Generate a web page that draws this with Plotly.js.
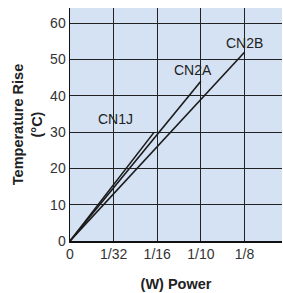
<!DOCTYPE html>
<html><head><meta charset="utf-8">
<script src="https://cdn.plot.ly/plotly-3.0.1.min.js"></script>
<style>html,body{margin:0;padding:0;background:#fff;}#c{width:283px;height:293px;}</style>
</head><body><div id="c"></div>
<script>
const tickPositions = [0, 1, 2, 3, 4];
const tickLabels = ["0", "1/32", "1/16", "1/10", "1/8"];
const seriesNames = ["CN1J", "CN2A", "CN2B"];
const cn1jX = [0, 1.93];
const cn1jY = [0, 30];
const cn2aX = [0, 3];
const cn2aY = [0, 44];
const cn2bX = [0, 4];
const cn2bY = [0, 52];
const labelX = [1.05, 2.81, 4.0];
const labelY = [33.6, 47.1, 54.5];

const mk = (x, y, n) => ({x: x, y: y, name: n, type: 'scatter', mode: 'lines',
  line: {color: '#1a1a1a', width: 1.6}, hoverinfo: 'skip'});
const data = [mk(cn1jX, cn1jY, seriesNames[0]), mk(cn2aX, cn2aY, seriesNames[1]), mk(cn2bX, cn2bY, seriesNames[2])];

const fam = 'Liberation Sans, Arial, sans-serif';
const font = {family: fam, size: 14, color: '#333'};
const layout = {
  width: 283, height: 293,
  margin: {l: 70, r: 1, t: 8, b: 52},
  paper_bgcolor: '#fff', plot_bgcolor: '#d5e2f3',
  showlegend: false,
  font: font,
  xaxis: {range: [0, 4.86], tickvals: tickPositions, ticktext: tickLabels,
    showgrid: true, gridcolor: '#222', gridwidth: 1, zeroline: false,
    showline: true, linecolor: '#111', linewidth: 1.5, mirror: false,
    ticks: '', ticklen: 0, tickfont: font,
    title: {text: '<b>(W) Power</b>', font: {family: fam, size: 14.5, color: '#222'}, standoff: 17}},
  yaxis: {range: [0, 64.2], tickvals: [0, 10, 20, 30, 40, 50, 60],
    showgrid: true, gridcolor: '#222', gridwidth: 1, zeroline: false,
    showline: true, linecolor: '#111', linewidth: 1.5,
    ticks: '', tickfont: font,
    title: {text: '<b>Temperature Rise<br>(°C)</b>', font: {family: fam, size: 14.5, color: '#222'}, standoff: 4}},
  annotations: seriesNames.map((n, i) => ({x: labelX[i], y: labelY[i], text: n, showarrow: false,
    xanchor: 'center', yanchor: 'middle', font: {family: fam, size: 14, color: '#222'}}))
};
Plotly.newPlot('c', data, layout, {staticPlot: true, displayModeBar: false});
</script></body></html>
